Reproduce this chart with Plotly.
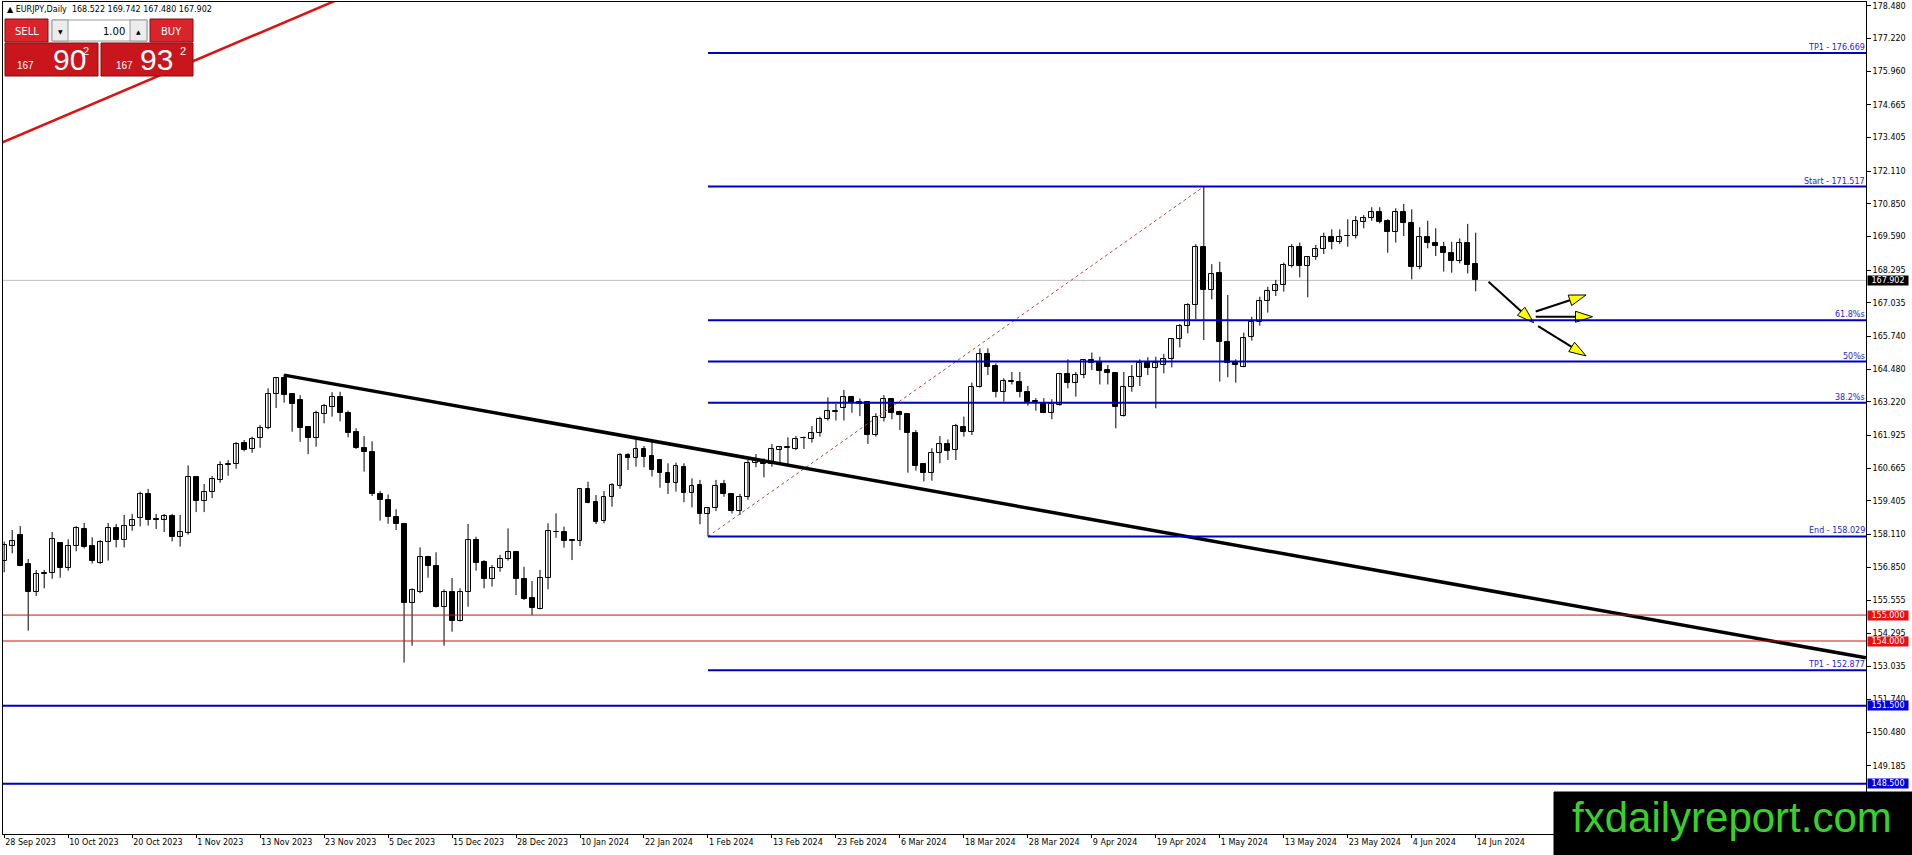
import math
import plotly.graph_objects as go

# daily candles, 28 Sep 2023 .. 14 Jun 2024 (one value per bar)
OPEN = [157.08, 157.66, 158.07, 156.96, 155.90, 156.58, 156.61, 157.77, 156.83, 157.65,
        158.30, 157.65, 156.99, 157.80, 158.34, 157.88, 158.42, 158.73, 159.67, 158.69,
        158.65, 158.82, 158.00, 158.18, 160.32, 159.41, 159.73, 160.19, 160.80, 160.82,
        161.62, 161.39, 161.81, 162.22, 163.51, 164.13, 163.52, 163.29, 162.24, 161.81,
        162.75, 163.03, 163.39, 162.80, 162.04, 161.45, 161.27, 159.67, 159.42, 158.79,
        158.51, 155.48, 155.90, 157.25, 156.90, 155.32, 155.90, 154.78, 155.90, 157.89,
        157.06, 156.38, 156.80, 157.15, 157.43, 156.38, 155.64, 155.25, 156.42, 158.22,
        158.19, 157.88, 157.87, 159.85, 159.35, 158.64, 159.54, 159.99, 161.17, 161.04,
        161.39, 161.13, 160.98, 160.46, 160.08, 160.72, 159.69, 160.01, 158.88, 159.11,
        160.05, 159.65, 159.03, 159.54, 160.85, 160.94, 160.82, 161.36, 161.45, 161.40,
        161.81, 161.77, 162.03, 162.55, 162.84, 162.97, 163.42, 163.23, 163.23, 161.94,
        162.58, 163.32, 162.82, 162.74, 162.01, 160.82, 160.49, 161.23, 161.58, 161.36,
        162.26, 162.07, 163.78, 165.06, 164.60, 163.59, 163.98, 163.97, 163.61, 163.25,
        163.12, 162.80, 163.10, 164.28, 163.93, 164.24, 164.82, 164.76, 164.45, 164.32,
        162.69, 163.81, 164.19, 164.74, 164.51, 164.64, 164.88, 165.63, 166.14, 166.94,
        169.20, 167.53, 168.17, 165.51, 164.77, 164.58, 165.71, 166.29, 167.09, 167.50,
        167.71, 168.46, 169.18, 168.46, 168.79, 169.10, 169.56, 169.39, 169.60, 169.61,
        170.17, 170.29, 170.55, 170.19, 169.78, 170.55, 170.10, 168.43, 169.59, 169.36,
        169.20, 168.95, 168.66, 169.33, 168.522]
HIGH = [157.83, 158.28, 158.43, 157.16, 156.74, 156.74, 158.20, 157.79, 157.92, 158.43,
        158.55, 158.00, 157.89, 158.55, 158.51, 158.86, 158.90, 159.76, 159.86, 158.90,
        158.90, 158.90, 158.86, 160.77, 160.36, 160.05, 160.36, 160.93, 160.98, 161.67,
        161.75, 161.88, 162.33, 163.74, 164.17, 164.28, 163.55, 163.48, 162.26, 162.88,
        163.14, 163.59, 163.61, 162.88, 162.20, 161.90, 161.70, 159.78, 159.65, 159.08,
        158.54, 156.03, 157.61, 157.28, 157.42, 155.99, 156.43, 156.03, 158.51, 158.02,
        157.12, 156.93, 157.32, 158.34, 157.46, 156.86, 156.31, 156.74, 158.54, 158.92,
        158.41, 157.92, 159.89, 160.14, 159.63, 159.78, 160.08, 161.24, 161.24, 161.77,
        161.52, 161.69, 161.00, 160.85, 160.88, 160.85, 160.27, 160.21, 159.15, 160.21,
        160.21, 159.69, 159.67, 160.98, 161.21, 161.04, 161.60, 161.52, 161.85, 161.90,
        161.88, 162.29, 162.65, 163.39, 163.14, 163.68, 163.45, 163.35, 163.25, 162.78,
        163.48, 163.35, 162.88, 162.76, 162.13, 160.85, 161.43, 161.90, 161.77, 162.37,
        162.65, 163.96, 165.28, 165.28, 164.70, 164.13, 164.37, 164.37, 163.83, 163.36,
        163.36, 163.32, 164.31, 164.86, 164.37, 164.86, 165.12, 164.96, 164.64, 164.34,
        164.37, 164.64, 164.86, 164.94, 164.96, 165.06, 165.67, 166.22, 167.02, 169.30,
        171.517, 168.53, 168.62, 167.34, 164.86, 165.89, 166.50, 167.27, 167.66, 167.92,
        168.59, 169.30, 169.36, 168.84, 169.27, 169.74, 169.87, 169.87, 170.26, 170.38,
        170.42, 170.72, 170.72, 170.26, 170.68, 170.85, 170.64, 169.95, 170.20, 169.91,
        169.39, 169.39, 169.52, 170.08, 169.742]
LOW = [156.65, 157.38, 156.88, 154.40, 155.74, 156.03, 156.40, 156.44, 156.71, 157.46,
       157.57, 156.99, 156.97, 157.10, 157.61, 157.61, 158.25, 158.42, 158.45, 158.32,
       158.20, 157.84, 157.64, 158.10, 158.97, 158.97, 159.51, 160.10, 160.37, 160.64,
       161.31, 161.26, 161.45, 162.16, 162.98, 163.19, 162.07, 161.68, 161.20, 161.49,
       162.39, 162.65, 162.47, 161.85, 161.40, 160.53, 159.59, 158.64, 158.52, 158.28,
       153.17, 153.82, 155.84, 156.44, 155.29, 153.82, 154.36, 154.75, 155.32, 156.71,
       156.03, 156.10, 156.67, 157.10, 155.77, 155.58, 155.00, 155.22, 155.99, 157.98,
       157.60, 157.12, 157.66, 159.31, 158.51, 158.54, 159.18, 159.87, 160.59, 160.72,
       160.70, 160.34, 159.91, 159.67, 159.76, 159.35, 159.15, 158.50, 158.029, 159.01,
       159.56, 158.92, 158.86, 159.44, 160.70, 160.31, 160.72, 160.85, 160.78, 161.36,
       161.40, 161.65, 161.88, 162.50, 162.50, 162.50, 162.80, 162.67, 161.60, 161.88,
       162.46, 162.55, 162.13, 160.49, 160.57, 160.15, 160.18, 160.85, 160.98, 160.98,
       161.88, 161.94, 163.77, 164.25, 163.39, 163.23, 163.89, 163.39, 163.07, 162.88,
       162.78, 162.55, 163.07, 163.74, 163.42, 164.13, 164.45, 163.89, 163.89, 162.20,
       162.65, 163.61, 163.83, 164.25, 162.97, 164.32, 164.55, 165.32, 165.86, 166.40,
       165.60, 167.17, 164.00, 164.17, 163.96, 164.55, 165.58, 166.16, 166.66, 167.30,
       167.47, 168.40, 168.02, 167.25, 168.69, 168.92, 169.10, 169.30, 169.20, 169.52,
       169.91, 170.20, 170.10, 168.97, 169.36, 169.61, 167.94, 168.33, 169.14, 168.84,
       168.24, 168.20, 168.56, 168.17, 167.480]
CLOSE = [157.70, 157.84, 156.90, 155.90, 156.57, 156.61, 157.95, 156.83, 157.65, 158.34,
         157.64, 157.10, 157.80, 158.34, 157.88, 158.42, 158.65, 159.67, 158.67, 158.66,
         158.82, 158.02, 158.19, 160.32, 159.41, 159.73, 160.23, 160.77, 160.83, 161.61,
         161.38, 161.80, 162.22, 163.51, 164.13, 163.50, 163.15, 162.22, 161.81, 162.78,
         163.05, 163.39, 162.78, 162.03, 161.43, 161.27, 159.67, 159.42, 158.79, 158.50,
         155.48, 155.97, 157.25, 156.90, 155.32, 155.90, 154.78, 155.90, 157.89, 156.99,
         156.38, 156.80, 157.15, 157.43, 156.38, 155.63, 155.29, 156.42, 158.23, 158.19,
         157.84, 157.85, 159.85, 159.33, 158.60, 159.54, 160.01, 161.17, 161.04, 161.39,
         161.11, 160.59, 160.46, 160.08, 160.75, 159.72, 159.99, 158.88, 159.11, 159.99,
         159.65, 159.03, 159.54, 160.85, 160.94, 160.82, 161.39, 161.47, 161.48, 161.77,
         161.84, 162.03, 162.55, 162.85, 162.87, 163.42, 163.19, 163.12, 161.94, 162.62,
         163.32, 162.80, 162.71, 162.01, 160.76, 160.49, 161.23, 161.58, 161.34, 162.29,
         162.07, 163.78, 165.06, 164.58, 163.59, 164.02, 164.01, 163.61, 163.23, 163.23,
         162.80, 163.12, 164.28, 163.93, 164.24, 164.82, 164.70, 164.42, 164.32, 163.01,
         163.81, 164.19, 164.70, 164.51, 164.73, 164.88, 165.63, 166.14, 166.94, 169.18,
         167.53, 168.14, 165.51, 164.73, 164.64, 165.67, 166.29, 167.09, 167.50, 167.71,
         168.48, 169.18, 168.46, 168.79, 169.10, 169.56, 169.39, 169.59, 169.63, 170.18,
         170.29, 170.55, 170.17, 169.78, 170.55, 170.10, 168.43, 169.59, 169.36, 169.23,
         168.95, 168.66, 169.33, 168.49, 167.902]

DATE_TICK_BARS = [0, 8, 16, 24, 32, 40, 48, 56, 64, 72, 80, 88,
                  96, 104, 112, 120, 128, 136, 144, 152, 160, 168, 176, 184]
DATE_TICK_LABELS = ["28 Sep 2023", "10 Oct 2023", "20 Oct 2023", "1 Nov 2023", "13 Nov 2023",
                    "23 Nov 2023", "5 Dec 2023", "15 Dec 2023", "28 Dec 2023", "10 Jan 2024",
                    "22 Jan 2024", "1 Feb 2024", "13 Feb 2024", "23 Feb 2024", "6 Mar 2024",
                    "18 Mar 2024", "28 Mar 2024", "9 Apr 2024", "19 Apr 2024", "1 May 2024",
                    "13 May 2024", "23 May 2024", "4 Jun 2024", "14 Jun 2024"]
PRICE_TICKS = [178.480, 177.220, 175.960, 174.665, 173.405, 172.110, 170.850, 169.590,
               168.295, 167.035, 165.740, 164.480, 163.220, 161.925, 160.665, 159.405,
               158.110, 156.850, 155.555, 154.295, 153.035, 151.740, 150.480, 149.185, 147.925]

# fibo expansion drawn from the 1 Feb low to the 19 Apr high
FIB_START_BAR = 88
FIB_END_BAR = 150
FIB_LEVELS = [176.669, 171.517, 166.365, 164.773, 163.181, 158.029, 152.877]
FIB_NAMES = ["TP1 - 176.669", "Start - 171.517", "61.8%s", "50%s", "38.2%s",
             "End - 158.029", "TP1 - 152.877"]

RED_LEVELS = [155.000, 154.000]
BLUE_LEVELS = [151.500, 148.500]
LAST_PRICE = 167.902

# trend lines (two anchor points each)
TREND_X = [35, 232.8]
TREND_Y = [164.25, 153.35]
RED_TREND_X = [-0.41, 40.46]
RED_TREND_Y = [173.20, 178.56]

# projection arrows: x0, y0, x1, y1
ARROWS = [(185.6, 167.85, 191.25, 166.27),
          (191.5, 166.70, 197.8, 167.34),
          (191.5, 166.50, 198.6, 166.50),
          (191.8, 166.14, 197.8, 164.99)]

W, H = 1912, 855
ML, MR, MT, MB = 3, 46, 2, 21
PW, PH = W - ML - MR, H - MT - MB
XMIN, XMAX = -0.15, 232.8
YMIN, YMAX = 146.56, 178.634
PX_X = PW / (XMAX - XMIN)
PX_Y = PH / (YMAX - YMIN)
FONT = "DejaVu Sans"


def pxx(x):
    return (x - ML) / PW


def pxy(y):
    return 1 - (y - MT) / PH


fig = go.Figure()

# wicks
wx, wy = [], []
for i in range(len(OPEN)):
    wx += [i, i, None]
    wy += [LOW[i], HIGH[i], None]
fig.add_trace(go.Scatter(x=wx, y=wy, mode="lines", line=dict(color="black", width=1),
                         hoverinfo="skip", showlegend=False))

# bodies
base = [min(o, c) for o, c in zip(OPEN, CLOSE)]
size = [max(abs(c - o), 0.012) for o, c in zip(OPEN, CLOSE)]
cols = ["white" if c >= o else "black" for o, c in zip(OPEN, CLOSE)]
fig.add_trace(go.Bar(x=list(range(len(OPEN))), y=size, base=base, width=0.62,
                     marker=dict(color=cols, line=dict(color="black", width=1)),
                     hoverinfo="skip", showlegend=False))

# dotted fibo base line
fig.add_trace(go.Scatter(x=[FIB_START_BAR, FIB_END_BAR], y=[LOW[FIB_START_BAR], HIGH[FIB_END_BAR]],
                         mode="lines", line=dict(color="#d03c3c", width=1, dash="dot"),
                         hoverinfo="skip", showlegend=False))

# red rising line top-left (extended past the top)
slope = (RED_TREND_Y[1] - RED_TREND_Y[0]) / (RED_TREND_X[1] - RED_TREND_X[0])
rx = [RED_TREND_X[0] - 1, RED_TREND_X[1] + 5]
ry = [RED_TREND_Y[0] - slope, RED_TREND_Y[1] + 5 * slope]
fig.add_trace(go.Scatter(x=rx, y=ry, mode="lines", line=dict(color="#e01010", width=2.5),
                         hoverinfo="skip", showlegend=False))

# descending trend line
fig.add_trace(go.Scatter(x=TREND_X, y=TREND_Y, mode="lines", line=dict(color="black", width=3.5),
                         hoverinfo="skip", showlegend=False))

# arrows
HEAD_LEN, HEAD_HALF = 17, 5.5
for x0, y0, x1, y1 in ARROWS:
    dxp = (x1 - x0) * PX_X
    dyp = (y1 - y0) * PX_Y
    n = math.hypot(dxp, dyp)
    ux, uy = dxp / n, dyp / n
    bx, by = -ux * HEAD_LEN, -uy * HEAD_LEN
    nx, ny = -uy * HEAD_HALF, ux * HEAD_HALF
    fig.add_trace(go.Scatter(x=[x0, x1 + bx / PX_X], y=[y0, y1 + by / PX_Y], mode="lines",
                             line=dict(color="black", width=2), hoverinfo="skip", showlegend=False))
    pts = [(0, 0), (bx + nx, by + ny), (bx - nx, by - ny), (0, 0)]
    fig.add_trace(go.Scatter(x=[x1 + a / PX_X for a, b in pts], y=[y1 + b / PX_Y for a, b in pts],
                             mode="lines", fill="toself", fillcolor="#ffff00",
                             line=dict(color="black", width=1), hoverinfo="skip", showlegend=False))

shapes = []
annotations = []

# current price line
shapes.append(dict(type="line", xref="paper", yref="y", x0=0, x1=1, y0=LAST_PRICE, y1=LAST_PRICE,
                   line=dict(color="#c0c0c0", width=1), layer="below"))
for lv in RED_LEVELS:
    shapes.append(dict(type="line", xref="paper", yref="y", x0=0, x1=1, y0=lv, y1=lv,
                       line=dict(color="#d01010", width=1)))
    annotations.append(dict(xref="paper", yref="y", x=1, y=lv, xanchor="left", yanchor="middle",
                            xshift=1, text=f"{lv:.3f}", showarrow=False, bgcolor="#e81010",
                            width=40, borderpad=0, font=dict(family=FONT, size=8, color="white")))
for lv in BLUE_LEVELS:
    shapes.append(dict(type="line", xref="paper", yref="y", x0=0, x1=1, y0=lv, y1=lv,
                       line=dict(color="#0000c0", width=2)))
    annotations.append(dict(xref="paper", yref="y", x=1, y=lv, xanchor="left", yanchor="middle",
                            xshift=1, text=f"{lv:.3f}", showarrow=False, bgcolor="#0000e0",
                            width=40, borderpad=0, font=dict(family=FONT, size=8, color="white")))
annotations.append(dict(xref="paper", yref="y", x=1, y=LAST_PRICE, xanchor="left", yanchor="middle",
                        xshift=1, text=f"{LAST_PRICE:.3f}", showarrow=False, bgcolor="black",
                        width=40, borderpad=0, font=dict(family=FONT, size=8, color="white")))

# fibo levels
for lv, name in zip(FIB_LEVELS, FIB_NAMES):
    shapes.append(dict(type="line", xref="x", yref="y", x0=FIB_START_BAR, x1=XMAX, y0=lv, y1=lv,
                       line=dict(color="#0000c0", width=2)))
    annotations.append(dict(xref="paper", yref="y", x=1, y=lv, xanchor="right", yanchor="bottom",
                            text=name, showarrow=False, borderpad=0,
                            font=dict(family=FONT, size=8, color="#2424d8")))

# header text
annotations.append(dict(xref="paper", yref="paper", x=pxx(5), y=pxy(9), xanchor="left",
                        yanchor="middle", showarrow=False,
                        text="▲ EURJPY,Daily&nbsp; 168.522 169.742 167.480 167.902",
                        font=dict(family=FONT, size=8, color="black")))


def box(x0, y0, x1, y1, fill, line):
    shapes.append(dict(type="rect", xref="paper", yref="paper", x0=pxx(x0), x1=pxx(x1),
                       y0=pxy(y1), y1=pxy(y0), fillcolor=fill, line=dict(color=line, width=1),
                       layer="above"))


def label(x, y, text, size, color="white", family=FONT, anchor="center"):
    annotations.append(dict(xref="paper", yref="paper", x=pxx(x), y=pxy(y), xanchor=anchor,
                            yanchor="middle", text=text, showarrow=False,
                            font=dict(family=family, size=size, color=color)))


# one-click trading panel
box(5, 43, 98, 76, "#c8161c", "#8a0a0a")
box(101, 43, 193, 76, "#c8161c", "#8a0a0a")
box(5, 19, 48, 42, "#d8242a", "#8a0a0a")
box(150, 19, 193, 42, "#d8242a", "#8a0a0a")
box(52, 20, 147, 41, "white", "#9a9a9a")
box(52, 20, 68, 41, "#ececec", "#9a9a9a")
box(130, 20, 147, 41, "#ececec", "#9a9a9a")
label(26.5, 31, "SELL", 10)
label(171.5, 31, "BUY", 10)
label(60, 31, "▼", 6, color="black")
label(138.5, 31, "▲", 6, color="black")
label(127, 31, "1.00", 10, color="black", anchor="right")
BIG = "Liberation Sans Narrow, Liberation Sans"
label(25, 65, "167", 10, family="Liberation Sans")
label(69.5, 59, "90", 30, family=BIG)
label(86, 51, "2", 11, family="Liberation Sans")
label(124.5, 65, "167", 10, family="Liberation Sans")
label(156, 59, "93", 30, family=BIG)
label(182.5, 51, "2", 11, family="Liberation Sans")

# watermark
box(1554, 792, 1913, 856, "black", "black")
label(1732, 817, "fxdailyreport.com", 42, color="#36d22a", family="Liberation Sans")

fig.update_layout(
    width=W, height=H,
    margin=dict(l=ML, r=MR, t=MT, b=MB, pad=0),
    paper_bgcolor="white", plot_bgcolor="white",
    shapes=shapes, annotations=annotations,
    bargap=0, showlegend=False,
    font=dict(family=FONT, size=8, color="black"),
    xaxis=dict(range=[XMIN, XMAX], tickvals=DATE_TICK_BARS, ticktext=DATE_TICK_LABELS,
               ticks="outside", ticklen=3, tickcolor="black", ticklabelposition="outside right",
               showgrid=False, zeroline=False, showline=True, linecolor="black", linewidth=1,
               mirror=True, tickfont=dict(family=FONT, size=8)),
    yaxis=dict(range=[YMIN, YMAX], side="right", tickvals=PRICE_TICKS,
               ticktext=[f"{v:.3f}" for v in PRICE_TICKS], ticks="outside", ticklen=4,
               tickcolor="black", showgrid=False, zeroline=False, showline=True,
               linecolor="black", linewidth=1, mirror=True, tickfont=dict(family=FONT, size=8)),
)

fig.write_html("out.html", config={"displayModeBar": False},
               post_script="document.body.style.margin='0';document.body.style.overflow='hidden';")
